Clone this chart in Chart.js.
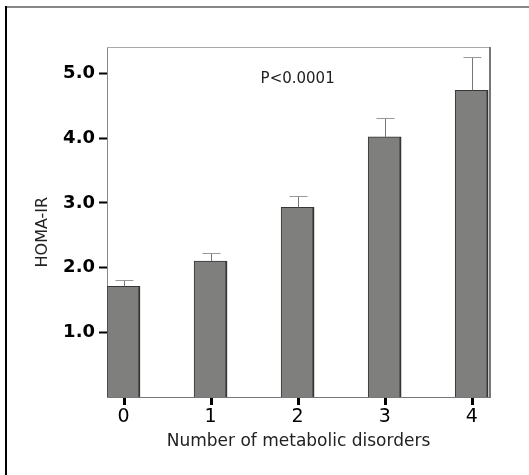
<!DOCTYPE html>
<html>
<head>
<meta charset="utf-8">
<script src="https://cdn.jsdelivr.net/npm/chart.js@4/dist/chart.umd.min.js"></script>
<style>
  html, body { margin: 0; padding: 0; background: #fff; }
  #wrap { width: 529px; height: 475px; }
</style>
</head>
<body>
<div id="wrap"><canvas id="chart" width="529" height="475"></canvas></div>
<script>
// ===== DATA =====
const categories = [0, 1, 2, 3, 4];
const homaMean = [1.71, 2.10, 2.93, 4.02, 4.74];
const homaUpper = [1.81, 2.22, 3.11, 4.31, 5.25];
const yTicks = [1, 2, 3, 4, 5];
const pLabel = 'P<0.0001';

// frame, x tick marks, error bars and p-value text
const extras = {
  id: 'extras',
  beforeDraw(chart) {
    const ctx = chart.ctx;
    ctx.save();
    ctx.fillStyle = '#fff';
    ctx.fillRect(0, 0, chart.width, chart.height);
    ctx.strokeStyle = '#888';
    ctx.lineWidth = 2;
    ctx.beginPath(); ctx.moveTo(5, 7); ctx.lineTo(chart.width, 7); ctx.stroke();
    ctx.strokeStyle = '#000';
    ctx.beginPath(); ctx.moveTo(6, 6); ctx.lineTo(6, chart.height); ctx.stroke();
    ctx.restore();
  },
  afterDatasetsDraw(chart) {
    const ctx = chart.ctx;
    const x = chart.scales.x, y = chart.scales.y;
    const a = chart.chartArea;
    ctx.save();
    // plot frame top / right
    ctx.strokeStyle = '#aaa';
    ctx.lineWidth = 1;
    ctx.beginPath(); ctx.moveTo(a.left, a.top + 0.5); ctx.lineTo(a.right, a.top + 0.5); ctx.stroke();
    ctx.strokeStyle = '#777';
    ctx.lineWidth = 2;
    ctx.beginPath(); ctx.moveTo(a.right, a.top); ctx.lineTo(a.right, a.bottom); ctx.stroke();
    // error bars
    categories.forEach((c, i) => {
      const px = Math.round(x.getPixelForValue(c)) + 0.5;
      const y0 = y.getPixelForValue(homaMean[i]);
      const y1 = Math.round(y.getPixelForValue(homaUpper[i])) + 0.5;
      ctx.strokeStyle = '#777';
      ctx.lineWidth = 1;
      ctx.beginPath(); ctx.moveTo(px, y0); ctx.lineTo(px, y1); ctx.stroke();
      ctx.strokeStyle = '#999';
      ctx.beginPath(); ctx.moveTo(px - 9, y1); ctx.lineTo(px + 9, y1); ctx.stroke();
    });
    // p value
    ctx.fillStyle = '#222';
    ctx.font = '15px "DejaVu Sans"';
    ctx.textAlign = 'center';
    ctx.textBaseline = 'middle';
    ctx.fillText(pLabel, x.getPixelForValue(2), y.getPixelForValue(4.91));
    ctx.restore();
  },
  afterDraw(chart) {
    // x tick marks below the axis
    const ctx = chart.ctx;
    const x = chart.scales.x;
    const a = chart.chartArea;
    ctx.save();
    ctx.fillStyle = '#000';
    categories.forEach(c => {
      const px = Math.round(x.getPixelForValue(c));
      ctx.fillRect(px - 1, a.bottom + 1, 3, 7);
    });
    ctx.restore();
  }
};

new Chart(document.getElementById('chart'), {
  type: 'bar',
  data: {
    datasets: [{
      data: categories.map((c, i) => ({ x: c, y: homaMean[i] })),
      backgroundColor: '#7f807d',
      borderColor: '#363636',
      borderWidth: { left: 1, right: 2, top: 1, bottom: 0 },
      borderSkipped: false,
      barThickness: 33,
    }]
  },
  options: {
    responsive: false,
    animation: false,
    layout: { padding: { top: 47, right: 39, left: 0, bottom: 0 } },
    plugins: { legend: { display: false }, tooltip: { enabled: false } },
    scales: {
      x: {
        type: 'linear',
        min: -0.19,
        max: 4.21,
        offset: false,
        afterBuildTicks: s => { s.ticks = categories.map(v => ({ value: v })); },
        afterFit: s => { s.height = 78; },
        grid: { offset: false, drawOnChartArea: false, drawTicks: false, tickLength: 7 },
        border: { color: '#777', width: 1 },
        ticks: {
          color: '#000', padding: 9,
          font: { family: 'DejaVu Sans', size: 19 },
          callback: v => String(v)
        },
        title: {
          display: true, text: 'Number of metabolic disorders', color: '#222',
          font: { family: 'DejaVu Sans', size: 17 },
          padding: { top: 0, bottom: 23 }
        }
      },
      y: {
        min: 0,
        max: 5.41,
        afterBuildTicks: s => { s.ticks = yTicks.map(v => ({ value: v })); },
        afterFit: s => { s.width = 107; },
        grid: { drawOnChartArea: false, tickLength: 8, tickWidth: 2, tickColor: '#000' },
        border: { color: '#888', width: 1 },
        ticks: {
          color: '#000', padding: 4,
          font: { family: 'DejaVu Sans', size: 18, weight: 'bold' },
          callback: v => v.toFixed(1)
        },
        title: {
          display: true, text: 'HOMA-IR\u00a0\u00a0\u00a0\u00a0', color: '#222',
          font: { family: 'DejaVu Sans', size: 16 },
          padding: { top: 33, bottom: 0 }
        }
      }
    }
  },
  plugins: [extras]
});
</script>
</body>
</html>
